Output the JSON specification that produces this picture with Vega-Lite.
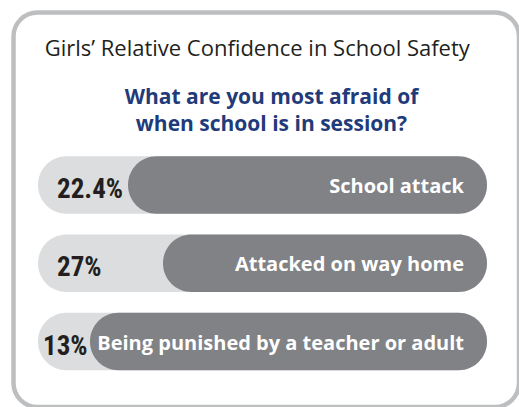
{
  "$schema": "https://vega.github.io/schema/vega-lite/v6.json",
  "width": 505.5,
  "height": 394.5,
  "autosize": "none",
  "padding": {"left": 13.5, "top": 12.5, "right": 0, "bottom": 0},
  "background": "white",
  "config": {
    "view": {"stroke": "#bcbec0", "strokeWidth": 4.5, "cornerRadius": 24, "fill": "white"}
  },
  "title": {
    "text": "Girls’ Relative Confidence in School Safety",
    "font": "Open Sans",
    "fontSize": 22,
    "fontWeight": "normal",
    "color": "#231f20",
    "anchor": "middle",
    "frame": "group",
    "offset": -48.5,
    "dx": -9
  },
  "data": {
    "values": [
      {"q": "School attack", "pct": "22.4%", "value": 22.4, "split": 20.05},
      {"q": "Attacked on way home", "pct": "27%", "value": 27, "split": 27.84},
      {"q": "Being punished by a teacher or adult", "pct": "13%", "value": 13, "split": 11.58}
    ]
  },
  "encoding": {
    "y": {
      "field": "q",
      "type": "nominal",
      "sort": null,
      "axis": null,
      "scale": {"range": [143.8, 357.8], "paddingInner": 0.265, "paddingOuter": 0, "round": false}
    }
  },
  "layer": [
    {
      "mark": {"type": "bar", "color": "#dcddde", "cornerRadius": 28.5},
      "encoding": {
        "x": {
          "datum": 0,
          "type": "quantitative",
          "scale": {"domain": [-5.457, 107.13], "nice": false, "zero": false},
          "axis": {
            "orient": "top",
            "title": ["What are you most afraid of", "when school is in session?"],
            "labels": false,
            "ticks": false,
            "domain": false,
            "grid": false,
            "titleFont": "Open Sans",
            "titleFontSize": 21,
            "titleFontWeight": "bold",
            "titleColor": "#1f3b7a",
            "titleX": 257.5,
            "titleY": 91,
            "titleBaseline": "alphabetic",
            "titleAlign": "center",
            "titleLineHeight": 27
          }
        },
        "x2": {"datum": 100}
      }
    },
    {
      "mark": {"type": "bar", "color": "#808285", "cornerRadius": 28.5},
      "encoding": {
        "x": {"field": "split", "type": "quantitative"},
        "x2": {"datum": 100}
      }
    },
    {
      "mark": {
        "type": "text",
        "align": "left",
        "baseline": "alphabetic",
        "font": "Roboto Condensed, Roboto, sans-serif",
        "fontWeight": "bold",
        "color": "#231f20",
        "fontSize": 27,
        "dy": 13,
        "dx": {"expr": "datum.value < 15 ? -14 : 0"}
      },
      "encoding": {
        "x": {"datum": 4.23, "type": "quantitative"},
        "text": {"field": "pct"}
      }
    },
    {
      "mark": {
        "type": "text",
        "align": "right",
        "baseline": "alphabetic",
        "font": "Open Sans",
        "fontWeight": "bold",
        "fontSize": 20,
        "dy": 8,
        "color": "white"
      },
      "encoding": {
        "x": {"datum": 94.88, "type": "quantitative"},
        "text": {"field": "q"}
      }
    }
  ]
}
